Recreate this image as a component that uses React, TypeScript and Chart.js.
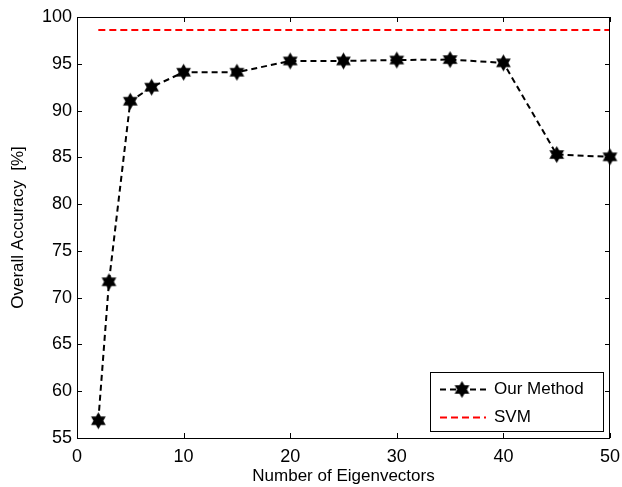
import React, { useEffect, useRef } from 'react';
import { Chart, registerables } from 'chart.js';
Chart.register(...registerables);

const eigenvectors = [2, 3, 5, 7, 10, 15, 20, 25, 30, 35, 40, 45, 50];
const ourMethod = [56.85, 71.7, 91.0, 92.5, 94.1, 94.1, 95.3, 95.3, 95.4, 95.45, 95.1, 85.3, 85.05];
const svmX = [2, 50];
const svmValues = [98.6, 98.6];
const xTicks = [0, 10, 20, 30, 40, 50];
const yTicks = [55, 60, 65, 70, 75, 80, 85, 90, 95, 100];

const FONT = "'Liberation Sans', Arial, Helvetica, sans-serif";

function makeHexagram(r: number): HTMLCanvasElement {
  const size = Math.ceil(r * 2 + 2);
  const c = document.createElement('canvas');
  c.width = size;
  c.height = size;
  const ctx = c.getContext('2d')!;
  const cx = size / 2;
  const cy = size / 2;
  const inner = r / Math.sqrt(3);
  ctx.beginPath();
  for (let i = 0; i < 12; i++) {
    const ang = -Math.PI / 2 + (i * Math.PI) / 6;
    const rad = i % 2 === 0 ? r : inner;
    const x = cx + rad * Math.cos(ang);
    const y = cy + rad * Math.sin(ang);
    if (i === 0) ctx.moveTo(x, y);
    else ctx.lineTo(x, y);
  }
  ctx.closePath();
  ctx.fillStyle = '#000';
  ctx.fill();
  return c;
}

export default function App() {
  const ref = useRef<HTMLCanvasElement | null>(null);

  useEffect(() => {
    document.body.style.margin = '0';
    const star = makeHexagram(8.5);

    const frame = {
      id: 'frame',
      afterDatasetsDraw(chart: any) {
        const { ctx, chartArea: a, scales } = chart;
        ctx.save();
        ctx.strokeStyle = '#000';
        ctx.lineWidth = 1;
        ctx.strokeRect(Math.round(a.left) + 0.5, Math.round(a.top) + 0.5, Math.round(a.right - a.left) - 1, Math.round(a.bottom - a.top));
        const tl = 5;
        ctx.beginPath();
        for (const v of xTicks) {
          const x = Math.round(scales.x.getPixelForValue(v)) + 0.5;
          ctx.moveTo(x, a.bottom);
          ctx.lineTo(x, a.bottom - tl);
          ctx.moveTo(x, a.top);
          ctx.lineTo(x, a.top + tl);
        }
        for (const v of yTicks) {
          const y = Math.round(scales.y.getPixelForValue(v)) + 0.5;
          ctx.moveTo(a.left, y);
          ctx.lineTo(a.left + tl, y);
          ctx.moveTo(a.right, y);
          ctx.lineTo(a.right - tl, y);
        }
        ctx.stroke();

        // legend
        const bx = 430.5, by = 372.5, bw = 173, bh = 59;
        ctx.fillStyle = '#fff';
        ctx.fillRect(bx, by, bw, bh);
        ctx.strokeRect(bx, by, bw, bh);
        const ds = chart.data.datasets;
        const rows = [by + 17, by + 45];
        ds.forEach((d: any, i: number) => {
          const y = rows[i];
          ctx.save();
          ctx.strokeStyle = d.borderColor;
          ctx.lineWidth = d.borderWidth;
          ctx.setLineDash(d.borderDash);
          ctx.beginPath();
          ctx.moveTo(440, y);
          ctx.lineTo(486, y);
          ctx.stroke();
          ctx.restore();
          if (d.pointStyle && typeof d.pointStyle !== 'string') {
            ctx.drawImage(d.pointStyle, 462 - d.pointStyle.width / 2, y - d.pointStyle.height / 2);
          }
          ctx.fillStyle = '#000';
          ctx.font = `17px ${FONT}`;
          ctx.textBaseline = 'middle';
          ctx.textAlign = 'left';
          ctx.fillText(d.label, 494, y);
        });
        ctx.restore();
      },
    };

    const chart = new Chart(ref.current!, {
      type: 'line',
      data: {
        datasets: [
          {
            label: 'Our Method',
            data: eigenvectors.map((x, i) => ({ x, y: ourMethod[i] })),
            borderColor: '#000',
            borderWidth: 2,
            borderDash: [6, 4],
            pointStyle: star as any,
            pointRadius: 8,
            pointBackgroundColor: '#000',
            fill: false,
            tension: 0,
            clip: false as any,
          },
          {
            label: 'SVM',
            data: svmX.map((x, i) => ({ x, y: svmValues[i] })),
            borderColor: '#ff0000',
            borderWidth: 2,
            borderDash: [7, 4],
            pointRadius: 0,
            pointStyle: false as any,
            fill: false,
            tension: 0,
          },
        ],
      },
      options: {
        responsive: false,
        animation: false,
        maintainAspectRatio: false,
        layout: { padding: { left: 0, right: 12, top: 17, bottom: 0 } },
        plugins: { legend: { display: false }, tooltip: { enabled: false } },
        scales: {
          x: {
            type: 'linear',
            min: 0,
            max: 50,
            afterBuildTicks: (s: any) => { s.ticks = xTicks.map((v) => ({ value: v })); },
            afterFit: (s: any) => { s.height = 49; s.paddingLeft = 0; s.paddingRight = 0; },
            grid: { display: false, drawTicks: false },
            border: { display: false },
            ticks: { color: '#000', font: { family: FONT, size: 18 }, padding: 8, maxRotation: 0 },
            title: { display: true, text: 'Number of Eigenvectors', color: '#000', font: { family: FONT, size: 17 }, padding: { top: 0, bottom: 0 } },
          },
          y: {
            type: 'linear',
            min: 55,
            max: 100,
            afterBuildTicks: (s: any) => { s.ticks = yTicks.map((v) => ({ value: v })); },
            afterFit: (s: any) => { s.width = 77; s.paddingTop = 0; s.paddingBottom = 0; },
            grid: { display: false, drawTicks: false },
            border: { display: false },
            ticks: { color: '#000', font: { family: FONT, size: 18 }, padding: 5 },
            title: { display: true, text: 'Overall Accuracy  [%]', color: '#000', font: { family: FONT, size: 17 }, padding: { top: 8, bottom: 0 } },
          },
        },
      },
      plugins: [frame],
    });
    return () => chart.destroy();
  }, []);

  return (
    <div style={{ width: 622, height: 487, background: '#fff' }}>
      <canvas ref={ref} width={622} height={487} style={{ display: 'block' }} />
    </div>
  );
}
